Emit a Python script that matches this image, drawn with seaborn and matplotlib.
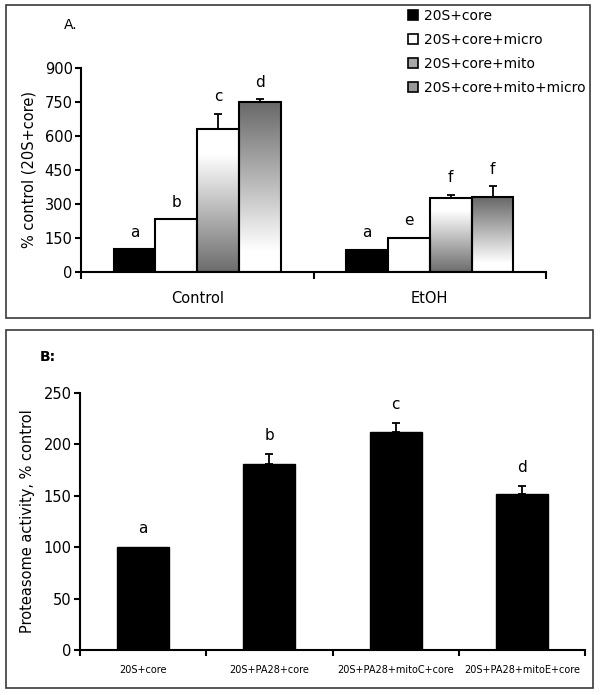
import numpy as np
import pandas as pd
import matplotlib
matplotlib.use("Agg")
import matplotlib.pyplot as plt
import seaborn as sns
from matplotlib.colors import LinearSegmentedColormap
from matplotlib.patches import Patch, Rectangle

# ---------------- data ----------------
groups_A = ["Control", "EtOH"]
treatments_A = ["20S+core", "20S+core+micro", "20S+core+mito", "20S+core+mito+micro"]
control_vals = [100, 232, 632, 750]
control_err = [0, 0, 66, 12]
etoh_vals = [98, 151, 327, 329]
etoh_err = [0, 0, 14, 50]
control_letters = ["a", "b", "c", "d"]
etoh_letters = ["a", "e", "f", "f"]
yticks_A = [0, 150, 300, 450, 600, 750, 900]

labels_B = ["20S+core", "20S+PA28+core", "20S+PA28+mitoC+core", "20S+PA28+mitoE+core"]
vals_B = [100, 181, 212, 152]
err_B = [0, 10, 9, 8]
letters_B = ["a", "b", "c", "d"]
yticks_B = [0, 50, 100, 150, 200, 250]

# ---------------- style ----------------
sns.set_theme(style="white")
plt.rcParams["font.family"] = ["DejaVu Sans"]
plt.rcParams["axes.edgecolor"] = "black"
plt.rcParams["xtick.color"] = "black"
plt.rcParams["ytick.color"] = "black"
plt.rcParams["text.color"] = "black"
plt.rcParams["axes.labelcolor"] = "black"

fig = plt.figure(figsize=(6, 6.95), dpi=100)
W, H = 600, 695

def fx(px):
    return px / W

def fy(py):
    return 1 - py / H

# panel frames
fig.add_artist(Rectangle((fx(6), fy(318)), fx(590) - fx(6), fy(5) - fy(318),
                         transform=fig.transFigure, fill=False, edgecolor="#3a3a3a", lw=1.2))
fig.add_artist(Rectangle((fx(6), fy(688)), fx(593) - fx(6), fy(330) - fy(688),
                         transform=fig.transFigure, fill=False, edgecolor="#3a3a3a", lw=1.2))

# ---------------- panel A ----------------
axA = fig.add_axes([fx(81), fy(272), fx(546) - fx(81), fy(68) - fy(272)])
dfA = pd.DataFrame({
    "group": np.repeat(groups_A, len(treatments_A)),
    "treatment": treatments_A * len(groups_A),
    "value": control_vals + etoh_vals,
})
pal = {"20S+core": "black", "20S+core+micro": "white",
       "20S+core+mito": "white", "20S+core+mito+micro": "white"}
sns.barplot(data=dfA, x="group", y="value", hue="treatment", hue_order=treatments_A,
            order=groups_A, palette=pal, width=0.72, edgecolor="black", linewidth=1.5,
            errorbar=None, legend=False, ax=axA, saturation=1)
bar_conts_A = list(axA.containers)

cmap_mito = LinearSegmentedColormap.from_list("mito", [(0, "#6c6c6c"), (0.82, "#ffffff"), (1, "#ffffff")])
cmap_mm = LinearSegmentedColormap.from_list("mm", [(0, "#ffffff"), (0.12, "#ffffff"), (1, "#686868")])
grad = np.linspace(0, 1, 256).reshape(-1, 1)
for ci, cmap in [(2, cmap_mito), (3, cmap_mm)]:
    for p in bar_conts_A[ci]:
        x0, y0, w, h = p.get_x(), p.get_y(), p.get_width(), p.get_height()
        im = axA.imshow(grad, extent=[x0, x0 + w, y0, y0 + h], origin="lower",
                        cmap=cmap, aspect="auto", zorder=p.get_zorder() - 0.05)
        im.set_clip_path(p)
        p.set_facecolor("none")

errs_A = [control_err, etoh_err]
lets_A = [control_letters, etoh_letters]
for hi, cont in enumerate(bar_conts_A):
    for gi, p in enumerate(cont):
        xc = p.get_x() + p.get_width() / 2
        top = p.get_height()
        e = errs_A[gi][hi]
        if e > 0:
            axA.errorbar([xc], [top], yerr=[[0], [e]], fmt="none", ecolor="black",
                         elinewidth=1.3, capsize=3, capthick=1.3, zorder=5)
        axA.annotate(lets_A[gi][hi], (xc, top + e), xytext=(0, 9), textcoords="offset points",
                     ha="center", va="baseline", fontsize=11)

axA.set_xlim(-0.5, 1.5)
axA.set_ylim(0, 900)
axA.set_yticks(yticks_A)
axA.set_yticklabels([str(v) for v in yticks_A], fontsize=10.5)
axA.set_xticks([0, 1])
axA.set_xticklabels(groups_A, fontsize=10.5)
axA.set_xticks([-0.5, 0.5, 1.5], minor=True)
axA.tick_params(axis="x", which="major", length=0, pad=14)
axA.tick_params(axis="x", which="minor", length=5, width=1.5, direction="out", bottom=True)
axA.tick_params(axis="y", length=4, width=1.5, direction="out", left=True, pad=2)
axA.set_xlabel("")
axA.set_ylabel("% control (20S+core)", fontsize=10.5, labelpad=6)
for s in ["top", "right"]:
    axA.spines[s].set_visible(False)
for s in ["left", "bottom"]:
    axA.spines[s].set_linewidth(1.5)
    axA.spines[s].set_color("black")

handles = [Patch(facecolor="black", edgecolor="black", lw=1.2),
           Patch(facecolor="white", edgecolor="black", lw=1.2),
           Patch(facecolor="#a8a8a8", edgecolor="black", lw=1.2),
           Patch(facecolor="#989898", edgecolor="black", lw=1.2)]
fig.legend(handles, treatments_A, loc="upper left", bbox_to_anchor=(fx(408), fy(9)),
           frameon=False, fontsize=10, handlelength=0.75, handleheight=0.75,
           handletextpad=0.4, labelspacing=0.72, borderpad=0, borderaxespad=0)

fig.text(fx(64), fy(25), "A.", fontsize=10, va="center", ha="left")

# ---------------- panel B ----------------
axB = fig.add_axes([fx(80), fy(650), fx(585) - fx(80), fy(393) - fy(650)])
dfB = pd.DataFrame({"label": labels_B, "value": vals_B})
sns.barplot(data=dfB, x="label", y="value", order=labels_B, color="black", width=0.41,
            edgecolor="black", errorbar=None, ax=axB, saturation=1)
bars_B = list(axB.patches)
for i, p in enumerate(bars_B):
    xc = p.get_x() + p.get_width() / 2
    top = p.get_height()
    e = err_B[i]
    if e > 0:
        axB.errorbar([xc], [top], yerr=[[0], [e]], fmt="none", ecolor="black",
                     elinewidth=1.3, capsize=3, capthick=1.3, zorder=5)
    axB.annotate(letters_B[i], (xc, top + e), xytext=(0, 10), textcoords="offset points",
                 ha="center", va="baseline", fontsize=11)

axB.set_xlim(-0.5, 3.5)
axB.set_ylim(0, 250)
axB.set_yticks(yticks_B)
axB.set_yticklabels([str(v) for v in yticks_B], fontsize=10.5)
axB.set_xticks(range(len(labels_B)))
axB.set_xticklabels(labels_B, fontsize=7)
axB.set_xticks([-0.5, 0.5, 1.5, 2.5, 3.5], minor=True)
axB.tick_params(axis="x", which="major", length=0, pad=11)
axB.tick_params(axis="x", which="minor", length=4, width=1.5, direction="out", bottom=True)
axB.tick_params(axis="y", length=4, width=1.5, direction="out", left=True, pad=2)
axB.set_xlabel("")
axB.set_ylabel("Proteasome activity, % control", fontsize=10.5, labelpad=6)
for s in ["top", "right"]:
    axB.spines[s].set_visible(False)
for s in ["left", "bottom"]:
    axB.spines[s].set_linewidth(1.5)
    axB.spines[s].set_color("black")

fig.text(fx(40), fy(357), "B:", fontsize=10, fontweight="bold", va="center", ha="left")

fig.savefig("out.png", dpi=100)
